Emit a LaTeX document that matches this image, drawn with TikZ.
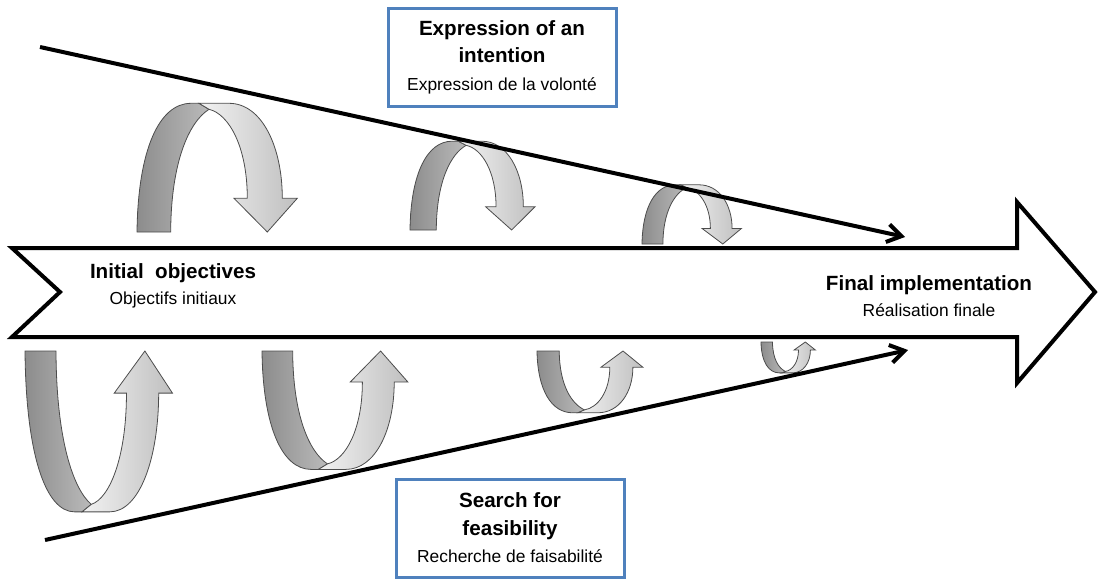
\documentclass[tikz,border=0pt]{standalone}
\usepackage{fontspec}
\setmainfont{Liberation Sans}
\usetikzlibrary{arrows.meta}

\definecolor{boxblue}{RGB}{79,129,189}
\newcommand{\headfont}{\fontsize{10.3}{13.75}\selectfont\bfseries}
\newcommand{\subfont}{\fontsize{8.7}{13.75}\selectfont}

% ribbon that turns over: dark band up, light band down with its head
\tikzset{
  darkband/.style={draw=black!70, line width=0.4pt, left color=black!45, right color=black!27},
  lightband/.style={draw=black!70, line width=0.4pt, left color=black!5, right color=black!25},
  uturn/.pic={
    \path[darkband] (0,0) .. controls (1,82) and (22,128.7) .. (54,128.7)
        -- (62,128.7) -- (72,122.7) .. controls (52,110) and (34,70) .. (33.7,0) -- cycle;
    \path[lightband] (62,128.7) -- (92,128.7) .. controls (125,128.7) and (145.3,85) .. (145.3,33.7)
        -- (160.3,33.7) -- (130.3,0) -- (97,33.7) -- (110.3,33.7)
        .. controls (110.3,85) and (92,118) .. (72,122.7) -- cycle;
  }
}

\begin{document}
\begin{tikzpicture}[
    x=0.5pt, y=-0.5pt,
    mainarrow/.style={draw=black, line width=2pt, fill=white},
    trend/.style={line width=2pt, -{Straight Barb[length=7pt,width=9pt]}},
    infobox/.style={draw=boxblue, line width=1.5pt, fill=white,
        minimum width=114pt, minimum height=49pt, align=center,
        font=\fontsize{10.3}{13.75}\selectfont},
    stagelabel/.style={align=center, font=\fontsize{10.3}{13.25}\selectfont}
]
    \useasboundingbox (0,0) rectangle (1099,579);

    % the big arrow
    \path[mainarrow] (12,248) -- (1017,248) -- (1017,202) -- (1095,292)
        -- (1017,383) -- (1017,337) -- (12,337) -- (60,292) -- cycle;

    % turning ribbons above (upward) and below (mirrored)
    \foreach \x/\y/\sx/\sy in {137/232/1.0/-1.0, 410/230/0.78/-0.69, 642/244/0.62/-0.46,
                               25/351/0.92/1.25, 262/351/0.91/0.92, 537/351/0.66/0.48,
                               761/342/0.34/0.24} {
        \pic[xscale=\sx, yscale=\sy] at (\x,\y) {uturn};
    }

    % converging lines
    \coordinate (topfrom) at (40,47);
    \coordinate (topto) at (905,237);
    \coordinate (botfrom) at (45,540);
    \coordinate (botto) at (908,350);
    \draw[trend] (topfrom) -- (topto);
    \draw[trend] (botfrom) -- (botto);

    % labels on the arrow
    \node[stagelabel] (initial) at (173,286)
        {{\headfont Initial\ \ objectives}\\{\subfont Objectifs initiaux}};
    \node[stagelabel] (final) at (929,296)
        {{\headfont Final implementation}\\{\subfont Réalisation finale}};

    % boxes
    \node[infobox] (intent) at (502,57)
        {{\headfont Expression of an}\\{\headfont intention}\\{\subfont Expression de la volonté}};
    \node[infobox] (feasible) at (510,528)
        {{\headfont Search for}\\{\headfont feasibility}\\{\subfont Recherche de faisabilité}};

\end{tikzpicture}
\end{document}
